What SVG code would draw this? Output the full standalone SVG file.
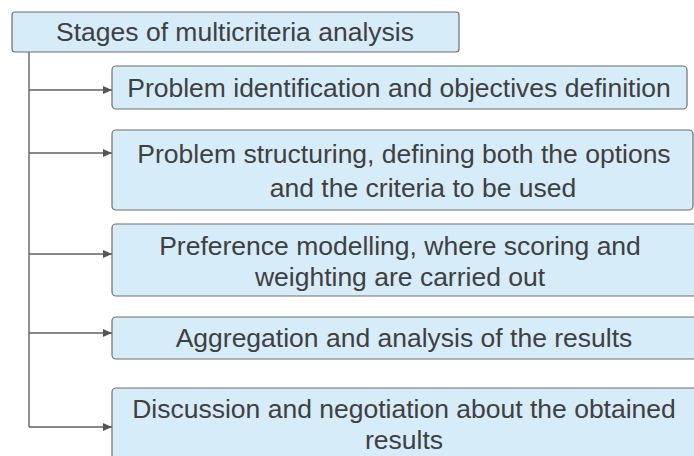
<svg xmlns="http://www.w3.org/2000/svg" width="694" height="456" viewBox="0 0 694 456">
<style>
.box{fill:#d6ecf8;stroke:#6e6e6e;stroke-width:1.2}
.t{font-family:"Liberation Sans",Arial,sans-serif;font-size:26.5px;fill:#404040;text-anchor:middle}
.c{fill:none;stroke:#626262;stroke-width:1.4}
</style>
<defs>
<marker id="ah" markerWidth="10" markerHeight="8" refX="9" refY="4" orient="auto" markerUnits="userSpaceOnUse">
<path d="M0,0 L9,4 L0,8 Z" fill="#555555"/>
</marker>
</defs>
<rect width="694" height="456" fill="#ffffff"/>
<g id="connectors">
<path class="c" d="M29,52 V427"/>
<path class="c" d="M29,90 H112" marker-end="url(#ah)"/>
<path class="c" d="M29,153 H112" marker-end="url(#ah)"/>
<path class="c" d="M29,254 H112" marker-end="url(#ah)"/>
<path class="c" d="M29,333 H112" marker-end="url(#ah)"/>
<path class="c" d="M29,427 H112" marker-end="url(#ah)"/>
</g>
<g id="root">
<rect class="box" x="12" y="12" width="447" height="40" rx="3"/>
<text class="t" x="235" y="41">Stages of multicriteria analysis</text>
</g>
<g id="stage1">
<rect class="box" x="112" y="66" width="575" height="43" rx="4"/>
<text class="t" x="399" y="97">Problem identification and objectives definition</text>
</g>
<g id="stage2">
<rect class="box" x="112" y="130" width="581" height="80" rx="4"/>
<text class="t" x="404" y="163">Problem structuring, defining both the options</text>
<text class="t" x="423" y="197">and the criteria to be used</text>
</g>
<g id="stage3">
<rect class="box" x="112" y="224" width="600" height="72" rx="4"/>
<text class="t" x="400" y="255">Preference modelling, where scoring and</text>
<text class="t" x="400" y="286">weighting are carried out</text>
</g>
<g id="stage4">
<rect class="box" x="112" y="317" width="600" height="42" rx="4"/>
<text class="t" x="404" y="347">Aggregation and analysis of the results</text>
</g>
<g id="stage5">
<rect class="box" x="112" y="388" width="600" height="80" rx="4"/>
<text class="t" x="404" y="418">Discussion and negotiation about the obtained</text>
<text class="t" x="404" y="449">results</text>
</g>
</svg>
